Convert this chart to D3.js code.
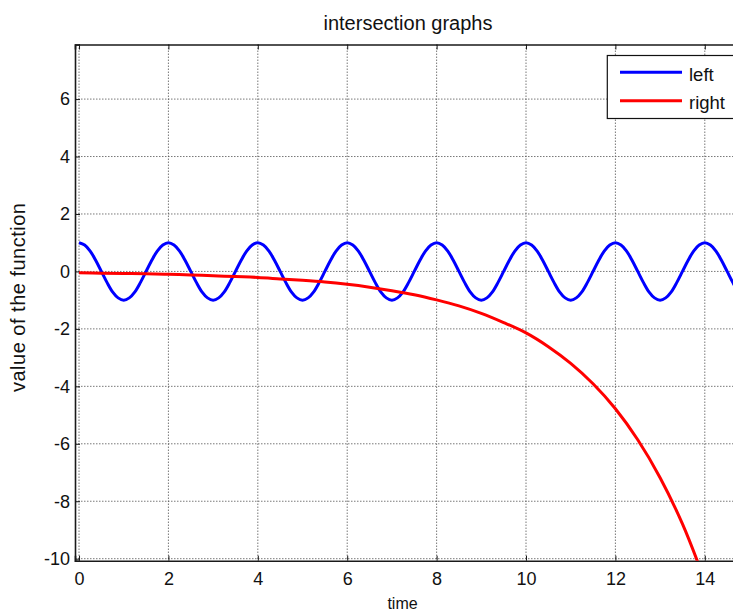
<!DOCTYPE html>
<html>
<head>
<meta charset="utf-8">
<script src="https://cdn.jsdelivr.net/npm/d3@7"></script>
<style>
  body { margin: 0; background: #fff; }
  svg { display: block; font-family: "Liberation Sans", Arial, sans-serif; }
</style>
</head>
<body>
<svg id="dessin" width="733" height="612"></svg>
<script>
// données
const blueT = [
  0, 0.125, 0.25, 0.375, 0.5, 0.625, 0.75, 0.875, 1, 1.125, 1.25, 1.375, 1.5, 1.625, 1.75, 1.875,
  2, 2.125, 2.25, 2.375, 2.5, 2.625, 2.75, 2.875, 3, 3.125, 3.25, 3.375, 3.5, 3.625, 3.75, 3.875,
  4, 4.125, 4.25, 4.375, 4.5, 4.625, 4.75, 4.875, 5, 5.125, 5.25, 5.375, 5.5, 5.625, 5.75, 5.875,
  6, 6.125, 6.25, 6.375, 6.5, 6.625, 6.75, 6.875, 7, 7.125, 7.25, 7.375, 7.5, 7.625, 7.75, 7.875,
  8, 8.125, 8.25, 8.375, 8.5, 8.625, 8.75, 8.875, 9, 9.125, 9.25, 9.375, 9.5, 9.625, 9.75, 9.875,
  10, 10.125, 10.25, 10.375, 10.5, 10.625, 10.75, 10.875, 11, 11.125, 11.25, 11.375, 11.5, 11.625, 11.75, 11.875,
  12, 12.125, 12.25, 12.375, 12.5, 12.625, 12.75, 12.875, 13, 13.125, 13.25, 13.375, 13.5, 13.625, 13.75, 13.875,
  14, 14.125, 14.25, 14.375, 14.5, 14.625, 14.75, 14.875, 15]
const blueV = [
  1, 0.92, 0.71, 0.38, 0, -0.38, -0.71, -0.92, -1, -0.92, -0.71, -0.38, 0, 0.38, 0.71, 0.92,
  1, 0.92, 0.71, 0.38, 0, -0.38, -0.71, -0.92, -1, -0.92, -0.71, -0.38, 0, 0.38, 0.71, 0.92,
  1, 0.92, 0.71, 0.38, 0, -0.38, -0.71, -0.92, -1, -0.92, -0.71, -0.38, 0, 0.38, 0.71, 0.92,
  1, 0.92, 0.71, 0.38, 0, -0.38, -0.71, -0.92, -1, -0.92, -0.71, -0.38, 0, 0.38, 0.71, 0.92,
  1, 0.92, 0.71, 0.38, 0, -0.38, -0.71, -0.92, -1, -0.92, -0.71, -0.38, 0, 0.38, 0.71, 0.92,
  1, 0.92, 0.71, 0.38, 0, -0.38, -0.71, -0.92, -1, -0.92, -0.71, -0.38, 0, 0.38, 0.71, 0.92,
  1, 0.92, 0.71, 0.38, 0, -0.38, -0.71, -0.92, -1, -0.92, -0.71, -0.38, 0, 0.38, 0.71, 0.92,
  1, 0.92, 0.71, 0.38, 0, -0.38, -0.71, -0.92, -1]

const redT = [0, 0.5, 1, 1.5, 2, 2.5, 3, 3.5, 4, 4.5, 5, 5.5, 6, 6.5, 7, 7.5, 8, 8.5, 9, 9.5,
  10, 10.5, 11, 11.5, 12, 12.5, 13, 13.5, 14]
const redV = [-0.05, -0.06, -0.07, -0.08, -0.1, -0.12, -0.15, -0.18, -0.21, -0.26, -0.31, -0.37,
  -0.45, -0.55, -0.67, -0.81, -0.99, -1.2, -1.46, -1.78, -2.14, -2.62, -3.2, -3.91, -4.78,
  -5.86, -7.18, -8.79, -10.77]

const xTicks = [0, 2, 4, 6, 8, 10, 12, 14]
const yTicks = [-10, -8, -6, -4, -2, 0, 2, 4, 6]
const legendNames = ["left", "right"]
const colors = ["#0000ff", "#ff0000"]

const gauche = 75, droite = 749.5, haut = 44.5, bas = 560.7

const x = d3.scaleLinear().domain([-0.09, 15]).range([gauche, droite])
const y = d3.scaleLinear().domain([-10.07, 7.9]).range([bas, haut])

const svg = d3.select("#dessin")

svg.append("defs").append("clipPath").attr("id", "zone")
  .append("rect")
  .attr("x", gauche).attr("y", haut)
  .attr("width", droite - gauche).attr("height", bas - haut)

// grille pointillée
svg.append("g").selectAll("line")
  .data(xTicks)
  .enter().append("line")
  .attr("x1", d => x(d)).attr("x2", d => x(d))
  .attr("y1", haut).attr("y2", bas)
  .style("stroke", "#555").style("stroke-width", 0.8).style("stroke-dasharray", "1.5,1.5")

svg.append("g").selectAll("line")
  .data(yTicks)
  .enter().append("line")
  .attr("x1", gauche).attr("x2", droite)
  .attr("y1", d => y(d)).attr("y2", d => y(d))
  .style("stroke", "#555").style("stroke-width", 0.8).style("stroke-dasharray", "1.5,1.5")

// axes (ticks vers l'intérieur), tirets simples comme sous matlab
const fmt = d => String(d)
const xAxis = svg.append("g")
  .attr("transform", `translate(0,${bas})`)
  .call(d3.axisBottom(x).tickValues(xTicks).tickSize(-5).tickPadding(12).tickFormat(fmt))
const xTop = svg.append("g")
  .attr("transform", `translate(0,${haut})`)
  .call(d3.axisTop(x).tickValues(xTicks).tickSize(-5).tickFormat(""))
const yAxis = svg.append("g")
  .attr("transform", `translate(${gauche},0)`)
  .call(d3.axisLeft(y).tickValues(yTicks).tickSize(-5).tickPadding(5).tickFormat(fmt))

for (const ax of [xAxis, xTop, yAxis]) {
  ax.select(".domain").style("stroke", "#1a1a1a").style("stroke-width", 1.6)
  ax.selectAll(".tick line").style("stroke", "#1a1a1a").style("stroke-width", 1)
  ax.selectAll("text").style("font-size", "18px").style("fill", "#111")
    .style("font-family", "'Liberation Sans', Arial, sans-serif")
}
xAxis.selectAll(".tick text").attr("dy", "0.71em")

// courbes
const blueData = blueT.map((t, i) => ({ t: t, v: blueV[i] }))
const redData = redT.map((t, i) => ({ t: t, v: redV[i] }))

const line = d3.line()
  .x(d => x(d.t))
  .y(d => y(d.v))
  .curve(d3.curveCatmullRom)

const plot = svg.append("g").attr("clip-path", "url(#zone)")
plot.append("path").datum(blueData)
  .attr("d", line)
  .style("fill", "none").style("stroke", colors[0]).style("stroke-width", 3)
plot.append("path").datum(redData)
  .attr("d", line)
  .style("fill", "none").style("stroke", colors[1]).style("stroke-width", 3)

// textes
svg.append("text")
  .attr("x", 408).attr("y", 30)
  .attr("text-anchor", "middle")
  .style("font-size", "20px").style("fill", "#111")
  .text("intersection graphs")

svg.append("text")
  .attr("x", 402.5).attr("y", 609)
  .attr("text-anchor", "middle")
  .style("font-size", "16px").style("fill", "#111")
  .text("time")

svg.append("text")
  .attr("transform", "translate(25,297.5) rotate(-90)")
  .attr("text-anchor", "middle")
  .attr("textLength", 189).attr("lengthAdjust", "spacing")
  .style("font-size", "20px").style("fill", "#111")
  .text("value of the function")

// légende
const leg = svg.append("g")
leg.append("rect")
  .attr("x", 607.3).attr("y", 55.5)
  .attr("width", 140).attr("height", 63)
  .style("fill", "#fff").style("stroke", "#111").style("stroke-width", 1.2)

leg.selectAll(".item")
  .data(legendNames)
  .enter().append("g")
  .attr("class", "item")
  .attr("transform", (d, i) => `translate(0,${72.3 + i * 28.4})`)
  .each(function (d, i) {
    const g = d3.select(this)
    g.append("line")
      .attr("x1", 620).attr("x2", 682)
      .attr("y1", 0).attr("y2", 0)
      .style("stroke", colors[i]).style("stroke-width", 3)
    g.append("text")
      .attr("x", 689).attr("y", 8.5)
      .style("font-size", "18.5px").style("fill", "#111")
      .text(d)
  })
</script>
</body>
</html>
